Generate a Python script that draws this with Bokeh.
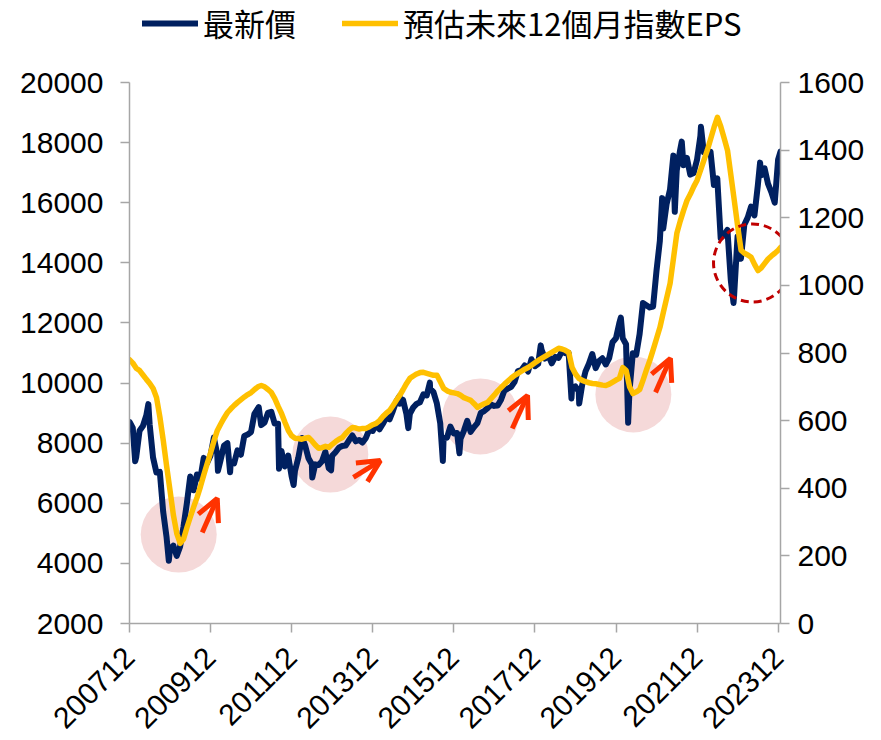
import math
import pandas as pd
from bokeh.plotting import figure
from bokeh.layouts import column
from bokeh.models import (Range1d, LinearAxis, FixedTicker, Legend, LegendItem,
                          Arrow, OpenHead, ColumnDataSource)
from bokeh.embed import file_html
from bokeh.resources import INLINE

# ---------------- data ----------------
tick_labels = ["200712", "200912", "201112", "201312", "201512",
               "201712", "201912", "202112", "202312"]
tick_dates = ["2007-12-01", "2009-12-01", "2011-12-01", "2013-12-01", "2015-12-01",
              "2017-12-01", "2019-12-01", "2021-12-01", "2023-12-01"]

# 最新價: month-end closes 2007-12 ... 2023-12
price_month_close = [
    8506,
    7521, 8412, 8572, 8920, 8619, 7524, 7024, 7046, 5720, 4871, 4460, 4591,
    4248, 4557, 5211, 5993, 6891, 6432, 6958, 6826, 7510, 7340, 7582, 8188,
    7640, 7437, 7920, 8004, 7374, 7329, 7761, 7616, 8238, 8287, 8372, 8973,
    9145, 8600, 8683, 9008, 9045, 8652, 8644, 7741, 7225, 7588, 6904, 7072,
    7517, 8121, 7933, 7501, 7301, 7296, 7270, 7397, 7715, 7166, 7580, 7700,
    7850, 7907, 7919, 8094, 8254, 8062, 8108, 8022, 8174, 8450, 8407, 8612,
    8462, 8639, 8849, 8792, 9075, 9393, 9315, 9436, 8966, 8974, 9187, 9307,
    9362, 9622, 9586, 9820, 9701, 9323, 8665, 8175, 8181, 8554, 8320, 8338,
    8145, 8411, 8745, 8377, 8535, 8667, 9007, 9069, 9166, 9290, 9240, 9254,
    9448, 9750, 9812, 9872, 10041, 10395, 10427, 10586, 10384, 10794, 10560, 10643,
    11104, 10815, 10919, 10657, 10875, 10837, 11057, 10992, 11006, 9802, 9888, 9727,
    9932, 10389, 10641, 10967, 10498, 10731, 10824, 10618, 10829, 11358, 11489, 11997,
    11495, 11292, 9708, 10992, 10942, 11621, 12665, 12592, 12516, 12546, 13723, 14733,
    15139, 15953, 16431, 17567, 17068, 17755, 17247, 17490, 16935, 16987, 17428, 18219,
    17674, 17652, 17693, 16593, 16807, 14826, 14927, 15095, 13425, 12949, 14880, 14138,
    15265, 15504, 15868, 15579, 16579, 16916, 17145, 16635, 16353, 16001, 17433, 17700,
]
price_last_date = "2023-12-22"

# 最新價: intra-month highs / lows
price_extra_dates = [
    "2007-12-03", "2008-01-22", "2008-05-19", "2008-11-20", "2010-02-06",
    "2010-05-25", "2011-02-08", "2011-08-09", "2011-12-19", "2012-03-02",
    "2012-06-04", "2012-11-21", "2014-07-30", "2014-10-17", "2015-04-28",
    "2015-08-24", "2016-01-21", "2018-01-23", "2018-10-26", "2019-01-04",
    "2020-01-14", "2020-03-19", "2021-01-21", "2021-05-13", "2021-07-15",
    "2022-01-05", "2022-10-25", "2023-06-20",
]
price_extra_vals = [
    8700, 7400, 9300, 4089, 7080,
    7032, 9200, 7150, 6609, 8170,
    6857, 7100, 9570, 8501, 10014,
    7410, 7664, 11253, 9489, 9319,
    12179, 8681, 16153, 15700, 18034,
    18526, 12666, 17334,
]

# 預估未來12個月指數EPS: monthly 2007-12 ... 2023-12, plus last reading
eps_monthly = [
    780, 770, 755, 748, 735, 722, 710, 695, 668, 610,
    541, 465, 393, 320, 266, 237, 250, 284, 315, 345,
    373, 405, 440, 473, 505, 540, 571, 590, 608, 624,
    635, 645, 654, 662, 670, 677, 683, 692, 700, 704,
    700, 692, 683, 665, 642, 621, 595, 571, 555, 548,
    547, 545, 548, 550, 540, 528, 518, 520, 524, 521,
    530, 538, 545, 550, 562, 572, 580, 578, 575, 577,
    577, 582, 588, 592, 600, 612, 622, 630, 645, 660,
    675, 692, 710, 725, 732, 738, 742, 743, 740, 737,
    734, 734, 715, 695, 688, 684, 682, 680, 675, 668,
    664, 660, 650, 639, 645, 650, 654, 665, 676, 688,
    698, 708, 717, 726, 734, 740, 746, 752, 757, 764,
    771, 778, 784, 790, 796, 802, 808, 814, 812, 808,
    802, 757, 738, 725, 719, 715, 712, 710, 709, 707,
    705, 704, 708, 714, 720, 725, 757, 748, 700, 680,
    685, 692, 720, 750, 778, 810, 843, 876, 920, 963,
    1006, 1080, 1154, 1190, 1222, 1251, 1270, 1292, 1311, 1340,
    1370, 1399, 1433, 1467, 1497, 1470, 1435, 1399, 1325, 1251,
    1175, 1104, 1095, 1090, 1083, 1062, 1044, 1052, 1065, 1078,
    1087, 1095, 1104,
]
eps_last_date = "2023-12-22"
eps_last_val = 1112

# annotations (date, 最新價 level)
circle_dates = ["2009-02-17", "2012-11-14", "2016-07-27", "2020-05-05"]
circle_vals = [4960, 7620, 8890, 9620]
dashed_circle_date = "2023-04-13"
dashed_circle_val = 13995
arrow_tail_dates = ["2009-09-17", "2013-06-09", "2017-05-10", "2020-11-22"]
arrow_tail_vals = [5030, 6860, 8490, 9690]
arrow_tip_dates = ["2010-01-31", "2014-02-08", "2017-09-25", "2021-04-04"]
arrow_tip_vals = [6160, 7420, 9590, 10820]

series_names = ["最新價", "預估未來12個月指數EPS"]


# ---------------- helpers ----------------
def moff(s):
    d = pd.Timestamp(s)
    return (d.year - 2007) * 12 + (d.month - 12) + (d.day - 1) / d.days_in_month


month_ends = list(pd.date_range("2007-12-31", periods=len(price_month_close), freq="ME"))
month_ends[-1] = pd.Timestamp(price_last_date)
px = [moff(d) for d in month_ends] + [moff(d) for d in price_extra_dates]
py = list(price_month_close) + list(price_extra_vals)
order = sorted(range(len(px)), key=lambda i: px[i])
px = [px[i] for i in order]
py = [py[i] for i in order]

month_starts = pd.date_range("2007-12-01", periods=len(eps_monthly), freq="MS")
ex = [moff(d) for d in month_starts] + [moff(eps_last_date)]
ey = list(eps_monthly) + [eps_last_val]

x_end = moff(eps_last_date)

NAVY = "#002060"
GOLD = "#FFC000"
AXIS = "#A6A6A6"
FONT = "Liberation Sans"
CJK = "Noto Sans CJK TC"
W = 881
LEG_H = 62
BL, BR = 129, 101

# ---------------- main chart ----------------
p = figure(width=W, height=740 - LEG_H, output_backend="svg", toolbar_location=None,
           x_range=Range1d(0, x_end), y_range=Range1d(2000, 20000),
           min_border_left=BL, min_border_right=BR, min_border_top=82 - LEG_H,
           min_border_bottom=117)
p.outline_line_color = None
p.xgrid.visible = False
p.ygrid.visible = False
p.background_fill_color = "white"
p.border_fill_color = "white"

p.extra_y_ranges = {"eps": Range1d(0, 1600)}


def style_axis(ax):
    ax.axis_line_color = AXIS
    ax.axis_line_width = 1.5
    ax.major_tick_line_color = AXIS
    ax.major_tick_line_width = 1.5
    ax.major_tick_in = 0
    ax.major_tick_out = 9
    ax.minor_tick_line_color = None
    ax.major_label_text_font = FONT
    ax.major_label_text_font_size = "30px"
    ax.major_label_text_color = "black"


yl = p.yaxis[0]
yl.ticker = FixedTicker(ticks=list(range(2000, 20001, 2000)))
style_axis(yl)
yl.major_label_standoff = 17

yr = LinearAxis(y_range_name="eps", ticker=FixedTicker(ticks=list(range(0, 1601, 200))))
style_axis(yr)
yr.major_label_standoff = 8
p.add_layout(yr, "right")

xa = p.xaxis[0]
tick_pos = [moff(d) for d in tick_dates]
xa.ticker = FixedTicker(ticks=tick_pos)
xa.major_label_overrides = {t: l for t, l in zip(tick_pos, tick_labels)}
style_axis(xa)
xa.major_label_orientation = math.pi / 4
xa.major_label_standoff = 20

# pink highlight circles (under lines)
csrc = ColumnDataSource(dict(x=[moff(d) for d in circle_dates], y=circle_vals))
p.scatter("x", "y", source=csrc, marker="circle", size=76,
          fill_color="#F5D9D9", line_color=None)

# lines
line_price = dict(line_color=NAVY, line_width=6, line_join="round", line_cap="round")
line_eps = dict(line_color=GOLD, line_width=5.5, line_join="round", line_cap="round")
p.line(px, py, **line_price)
p.line(ex, ey, y_range_name="eps", **line_eps)

# dashed circle
p.scatter([moff(dashed_circle_date)], [dashed_circle_val], marker="circle", size=78,
          fill_color=None, line_color="#C00000", line_width=3, line_dash="8 5")

# arrows
for td, tv, hd, hv in zip(arrow_tail_dates, arrow_tail_vals, arrow_tip_dates, arrow_tip_vals):
    p.add_layout(Arrow(end=OpenHead(size=22, line_color="#FF3300", line_width=5),
                       x_start=moff(td), y_start=tv, x_end=moff(hd), y_end=hv,
                       line_color="#FF3300", line_width=5))

# ---------------- legend strip ----------------
# same series drawn in a strip whose ranges keep them out of view; only the legend shows
lf = figure(width=W, height=LEG_H, output_backend="svg", toolbar_location=None,
            x_range=Range1d(0, 1), y_range=Range1d(0, 1),
            x_axis_location=None, y_axis_location=None,
            min_border_left=BL, min_border_right=BR, min_border_top=0, min_border_bottom=0)
lf.outline_line_color = None
lf.xgrid.visible = False
lf.ygrid.visible = False
lr1 = lf.line(px, py, **line_price)
lr2 = lf.line(ex, ey, **line_eps)
lg = Legend(items=[LegendItem(label=series_names[0], renderers=[lr1]),
                   LegendItem(label=series_names[1], renderers=[lr2])],
            location=(142 - BL, LEG_H - 30 - 15),
            orientation="horizontal",
            label_text_font=CJK, label_text_font_size="31px",
            label_text_color="black",
            glyph_width=56, glyph_height=30, label_height=30,
            label_standoff=5, padding=0, margin=0, spacing=46,
            border_line_color=None, background_fill_alpha=0)
lf.add_layout(lg)

layout = column(lf, p, spacing=0)
open("out.html", "w").write(file_html(layout, INLINE))
